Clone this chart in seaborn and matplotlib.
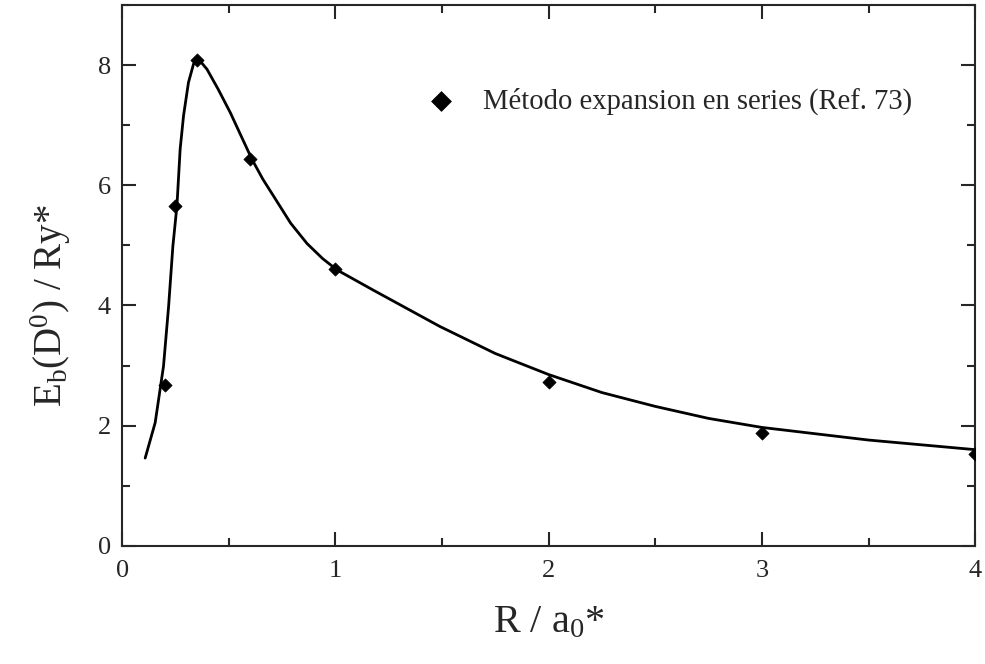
import numpy as np
import pandas as pd
import seaborn as sns
from matplotlib import pyplot as plt
from matplotlib.ticker import MultipleLocator

# points: series-expansion method (Ref. 73)
r_points = [0.2, 0.25, 0.35, 0.6, 1.0, 2.0, 3.0, 4.0]
e_points = [2.67, 5.66, 8.08, 6.43, 4.6, 2.72, 1.88, 1.53]

# continuous curve
r_curve = [0.108, 0.155, 0.194, 0.218, 0.238, 0.257, 0.272, 0.288, 0.311, 0.335,
           0.358, 0.398, 0.45, 0.507, 0.554, 0.609, 0.66, 0.71, 0.79, 0.867,
           0.94, 1.008, 1.18, 1.49, 1.75, 2.0, 2.25, 2.5, 2.75, 3.0, 3.5, 4.0]
e_curve = [1.46, 2.05, 2.99, 3.99, 4.99, 5.66, 6.6, 7.16, 7.71, 8.02,
           8.1, 7.93, 7.6, 7.21, 6.85, 6.43, 6.1, 5.82, 5.37, 5.03,
           4.78, 4.59, 4.25, 3.65, 3.2, 2.85, 2.55, 2.32, 2.12, 1.97, 1.76, 1.6]

legend_label = "Método expansion en series (Ref. 73)"

sns.set_style("ticks")
plt.rcParams['font.family'] = ['Liberation Serif', 'DejaVu Serif']
plt.rcParams['mathtext.fontset'] = 'custom'
plt.rcParams['mathtext.rm'] = 'Liberation Serif'
plt.rcParams['mathtext.it'] = 'Liberation Serif:italic'

df_pts = pd.DataFrame({'R': r_points, 'E': e_points})
df_cur = pd.DataFrame({'R': r_curve, 'E': e_curve})

fig = plt.figure(figsize=(9.85, 6.64), dpi=100)
ax = fig.add_axes([0.124, 0.178, 0.866, 0.8145])

sns.lineplot(data=df_cur, x='R', y='E', ax=ax, color='black', linewidth=2,
             legend=False)
sns.scatterplot(data=df_pts, x='R', y='E', ax=ax, marker='D', s=45,
                color='black', edgecolor='black', label=legend_label, zorder=3)

ax.set_xlim(0, 4)
ax.set_ylim(0, 9)
ax.xaxis.set_major_locator(MultipleLocator(1))
ax.xaxis.set_minor_locator(MultipleLocator(0.5))
ax.yaxis.set_major_locator(MultipleLocator(2))
ax.yaxis.set_minor_locator(MultipleLocator(1))
ax.tick_params(which='both', direction='in', top=True, right=True, width=1.5,
               labelsize=19)
ax.tick_params(axis='x', which='major', pad=10)
ax.tick_params(axis='y', which='major', pad=8)
ax.tick_params(which='major', length=10)
ax.tick_params(which='minor', length=6)
for sp in ax.spines.values():
    sp.set_linewidth(1.5)
    sp.set_visible(True)

ax.set_xlabel(r'R / a$_\mathregular{0}$*', fontsize=29)
ax.set_ylabel(r'E$_\mathregular{b}$(D$^\mathregular{0}$) / Ry*', fontsize=28)
ax.xaxis.set_label_coords(0.5, -0.108)
ax.yaxis.set_label_coords(-0.058, 0.444)

leg = ax.legend(loc='upper right', bbox_to_anchor=(0.956, 0.895), frameon=False,
                fontsize=20.6, markerscale=1.5, handletextpad=0.45)

fig.savefig('out.png', dpi=100)
